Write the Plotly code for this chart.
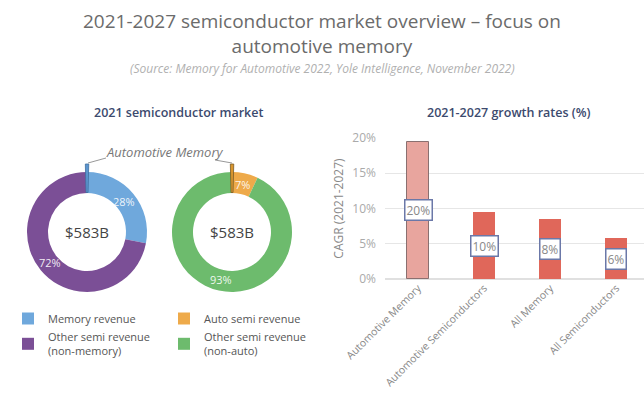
import math
import plotly.graph_objects as go

W, H = 644, 396

# ---- data ----
mem_labels = ["Memory revenue", "Other semi revenue<br>(non-memory)"]
mem_values = [28, 72]
auto_labels = ["Auto semi revenue", "Other semi revenue<br>(non-auto)"]
auto_values = [7, 93]
total_label = "$583B"
auto_mem_share = [0.8, 99.2]

cagr_categories = ["Automotive Memory", "Automotive Semiconductors", "All Memory", "All Semiconductors"]
cagr_values = [19.5, 9.5, 8.5, 5.8]
cagr_labels = ["20%", "10%", "8%", "6%"]
y_ticks = [0, 5, 10, 15, 20]
y_tick_text = ["0%", "5%", "10%", "15%", "20%"]

FONT = "Open Sans"

def px_x(x):
    return x / W

def px_y(y):
    return 1 - y / H

def dom(cx, cy, r):
    return dict(x=[px_x(cx - r), px_x(cx + r)], y=[px_y(cy + r), px_y(cy - r)])

fig = go.Figure()

DONUT_R = 60
HOLE = 0.65
CY = 232

def donut(cx, labels, values, colors, legend_name, sliver_color, sliver_line):
    fig.add_trace(go.Pie(
        labels=labels, values=values, hole=HOLE, sort=False, direction="clockwise",
        domain=dom(cx, CY, DONUT_R), marker=dict(colors=colors, line=dict(width=0)),
        textinfo="none", legend=legend_name, hoverinfo="label+percent"))
    fig.add_trace(go.Pie(
        values=auto_mem_share, labels=["Automotive Memory", ""], hole=0.58, sort=False,
        direction="clockwise", rotation=-1.4, domain=dom(cx, CY, 68),
        marker=dict(colors=[sliver_color, "rgba(0,0,0,0)"],
                    line=dict(width=[0.8, 0], color=sliver_line)),
        textinfo="none", showlegend=False, hoverinfo="skip"))
    # percentage labels at slice mid-angles
    total = sum(values)
    start = 0.0
    r_mid = DONUT_R * (1 + HOLE) / 2 - 1
    for v in values:
        mid = (start + v / 2) / total * 2 * math.pi
        start += v
        x = cx + r_mid * math.sin(mid)
        y = CY - r_mid * math.cos(mid)
        fig.add_annotation(x=px_x(x), y=px_y(y), xref="paper", yref="paper",
                           xanchor="center", yanchor="middle", text=f"{v}%", showarrow=False,
                           font=dict(size=11, color="rgba(255,255,255,0.9)", family=FONT))
    fig.add_annotation(x=px_x(cx), y=px_y(CY), xref="paper", yref="paper",
                       xanchor="center", yanchor="middle",
                       text=total_label, showarrow=False,
                       font=dict(size=15, color="#444444", family=FONT))

donut(87, mem_labels, mem_values, ["#6fa8dc", "#7b4f96"], "legend", "#5b95cf", "#3f6f9f")
donut(232, auto_labels, auto_values, ["#eeaa4a", "#6dbb6d"], "legend2", "#d9962f", "#7a5a25")

# bars
fig.add_trace(go.Bar(
    x=cagr_categories, y=cagr_values, width=0.33,
    marker=dict(color=["#e8a59e", "#e0675a", "#e0675a", "#e0675a"],
                line=dict(color=["#8a7070", "#e0675a", "#e0675a", "#e0675a"], width=[1, 0, 0, 0])),
    showlegend=False, xaxis="x", yaxis="y"))

for c, v, t in zip(cagr_categories, cagr_values, cagr_labels):
    fig.add_annotation(x=c, y=v / 2, xref="x", yref="y", text=t, showarrow=False,
                       xanchor="center", yanchor="middle",
                       bgcolor="white", bordercolor="#6b78a8", borderwidth=1.5, borderpad=1,
                       font=dict(size=12, color="#888888", family=FONT))

def label(x, y, text, font):
    fig.add_annotation(x=x, y=y, xref="paper", yref="paper", xanchor="center",
                       yanchor="middle", text=text, showarrow=False, font=font)

# titles
label(0.5, px_y(33), "2021-2027 semiconductor market overview – focus on<br>automotive memory",
      dict(size=19, color="#6b6b6b", family=FONT))
label(0.5, px_y(68), "<i>(Source: Memory for Automotive 2022, Yole Intelligence, November 2022)</i>",
      dict(size=12, color="#b0b0b0", family=FONT))
label(px_x(178), px_y(112), "2021 semiconductor market",
      dict(size=12.5, color="#3c4a6e", family=FONT, weight=600))
label(px_x(509), px_y(112), "2021-2027 growth rates (%)",
      dict(size=12.5, color="#3c4a6e", family=FONT, weight=600))
label(px_x(165), px_y(152), "<i>Automotive Memory</i>",
      dict(size=13, color="#777777", family=FONT))

# leader lines
fig.add_shape(type="line", xref="paper", yref="paper", x0=px_x(88), y0=px_y(163),
              x1=px_x(106), y1=px_y(158), line=dict(color="#999999", width=1))
fig.add_shape(type="line", xref="paper", yref="paper", x0=px_x(215), y0=px_y(160),
              x1=px_x(232), y1=px_y(163), line=dict(color="#999999", width=1))

fig.update_layout(
    width=W, height=H, margin=dict(l=0, r=0, t=0, b=0, autoexpand=False),
    paper_bgcolor="white", plot_bgcolor="white",
    font=dict(family=FONT, color="#666666"),
    bargap=0,
    xaxis=dict(domain=[px_x(385), 1], range=[-0.5, 3.42], tickangle=-45, automargin=False,
               tickfont=dict(size=10.5, color="#888888"), showgrid=False, showline=False,
               ticks=""),
    yaxis=dict(domain=[px_y(279), px_y(138)], range=[0, 20], tickmode="array",
               tickvals=y_ticks, ticktext=y_tick_text, automargin=False,
               tickfont=dict(size=12, color="#aaaaaa"), gridcolor="#e6e6e6",
               zeroline=True, zerolinecolor="#e0e0e0", showline=False, ticklabelstandoff=8,
               title=dict(text="CAGR (2021-2027)", font=dict(size=12, color="#888888"), standoff=6)),
    legend=dict(x=px_x(8), y=px_y(304), xanchor="left", yanchor="top",
                font=dict(size=11, color="#555555"), bgcolor="rgba(0,0,0,0)",
                tracegroupgap=0, itemwidth=30),
    legend2=dict(x=px_x(164), y=px_y(304), xanchor="left", yanchor="top",
                 font=dict(size=11, color="#555555"), bgcolor="rgba(0,0,0,0)",
                 tracegroupgap=0, itemwidth=30),
)

fig.write_html("out.html", config={"displayModeBar": False},
               post_script="document.body.style.margin='0';")
